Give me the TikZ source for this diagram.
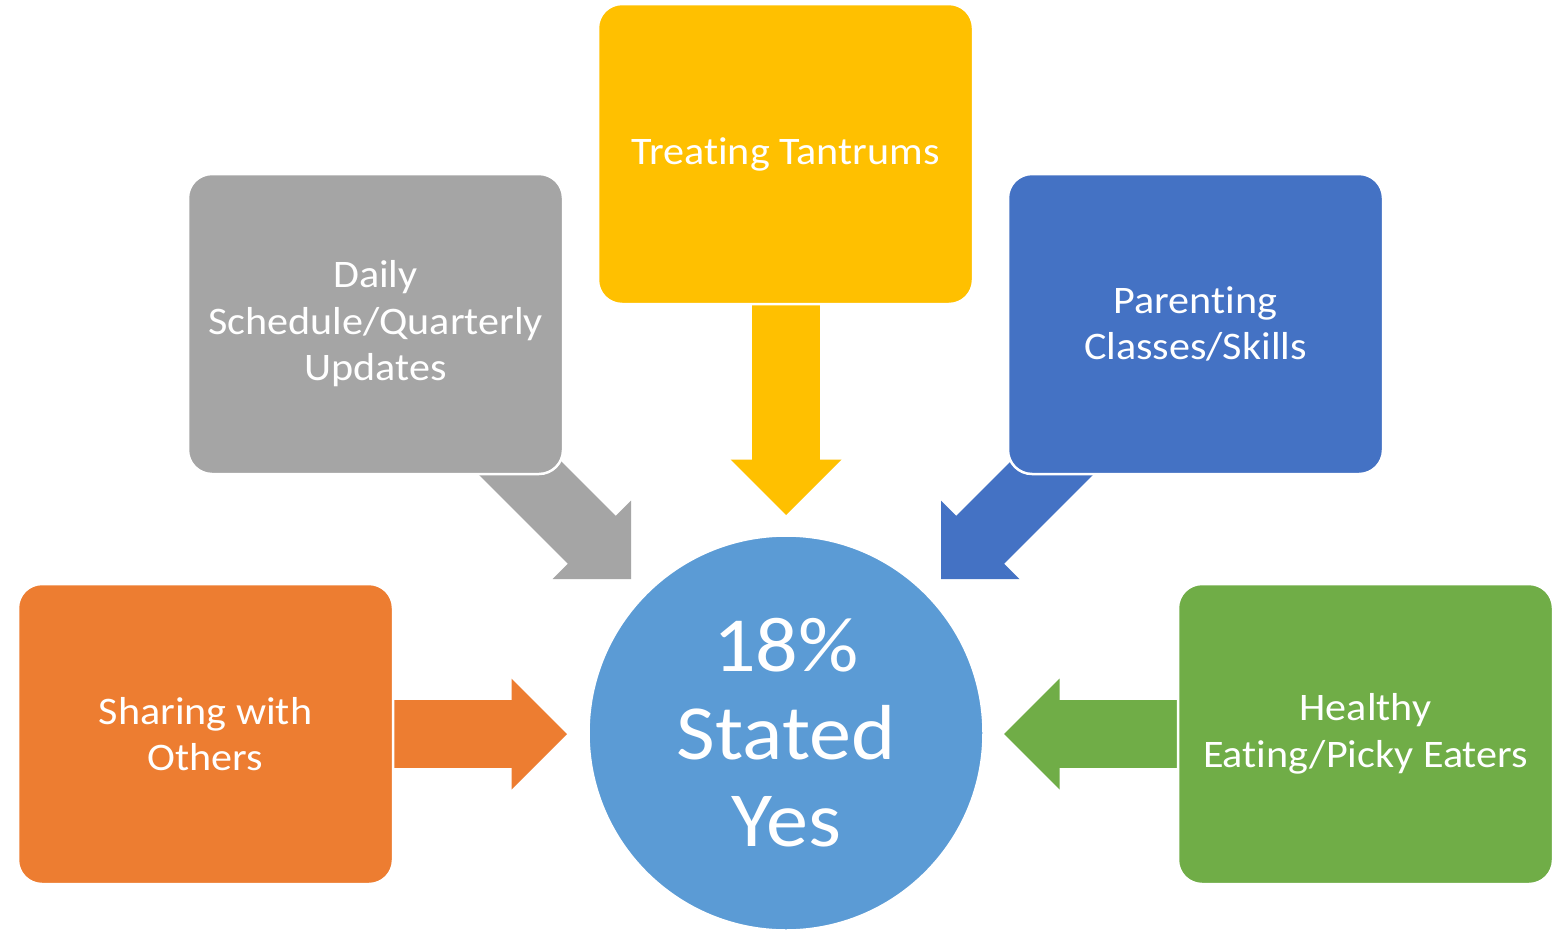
\documentclass[tikz,border=0pt]{standalone}
\usepackage{fontspec}
\setmainfont{Carlito}[FakeStretch=1.08,
  RawFeature={-liga;-clig;-dlig;-calt}]
\definecolor{tantrumYellow}{HTML}{FFC000}
\definecolor{scheduleGray}{HTML}{A5A5A5}
\definecolor{parentBlue}{HTML}{4472C4}
\definecolor{shareOrange}{HTML}{ED7D31}
\definecolor{eatGreen}{HTML}{70AD47}
\definecolor{hubBlue}{HTML}{5B9BD5}
\tikzset{
  topic/.style={draw=white, line width=2.5pt, rounded corners=24pt,
    minimum width=375pt, minimum height=300pt, inner sep=0pt,
    text=white, align=center, font=\fontsize{39}{46.5}\selectfont},
  hub/.style={circle, draw=white, line width=2.5pt, fill=hubBlue,
    minimum size=395pt, inner sep=0pt,
    text=white, align=center, font=\fontsize{78}{87.5}\selectfont},
}
% block arrow: colour, tip, angle, length
\newcommand{\blockarrow}[4]{%
  \fill[#1, shift={(#2)}, rotate=#3] (0,0) -- (-55.5,55.5) -- (-55.5,33.8)
    -- (-#4,33.8) -- (-#4,-33.8) -- (-55.5,-33.8) -- (-55.5,-55.5) -- cycle;}
\begin{document}
\begin{tikzpicture}[x=1pt, y=-1pt]
  \useasboundingbox (0,0) rectangle (1563,929);
  \fill[white] (0,0) rectangle (1563,929);

  \coordinate (tipTop) at (786,515);
  \coordinate (tipLeftUp) at (631,579);
  \coordinate (tipRightUp) at (941,579);
  \coordinate (tipLeft) at (567,734);
  \coordinate (tipRight) at (1004,734);

  \blockarrow{tantrumYellow}{tipTop}{-90}{212}
  \blockarrow{scheduleGray}{tipLeftUp}{-45}{220}
  \blockarrow{parentBlue}{tipRightUp}{-135}{220}
  \blockarrow{shareOrange}{tipLeft}{0}{175}
  \blockarrow{eatGreen}{tipRight}{180}{176}

  \node[hub] (yes) at (786,733) {18\%\\Stated\\Yes};

  \node[topic, fill=tantrumYellow] (tantrums) at (785.5,154) {Treating Tantrums};
  \node[topic, fill=scheduleGray] (schedule) at (375.5,324)
    {Daily\\Schedule/Quarterly\\Updates};
  \node[topic, fill=parentBlue] (parenting) at (1195.5,324)
    {Parenting\\Classes/Skills};
  \node[topic, fill=shareOrange] (sharing) at (205.5,734) {Sharing with\\Others};
  \node[topic, fill=eatGreen] (eating) at (1365.5,734)
    {Healthy\\Eating/Picky Eaters};
\end{tikzpicture}
\end{document}
